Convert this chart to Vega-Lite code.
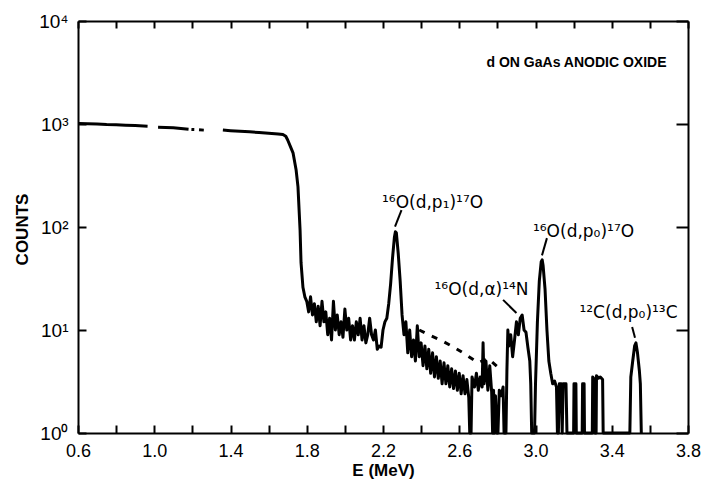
{
  "$schema": "https://vega.github.io/schema/vega-lite/v6.json",
  "width": 610,
  "height": 412,
  "autosize": {"type": "none"},
  "padding": {"left": 78, "top": 21, "right": 14, "bottom": 46},
  "background": "white",
  "config": {
    "view": {"stroke": null},
    "axis": {"domainColor": "black", "tickColor": "black", "labelColor": "black", "titleColor": "black", "grid": false, "domainWidth": 2, "tickWidth": 2, "labelFont": "Liberation Sans", "titleFont": "Liberation Sans"}
  },
  "datasets": {
    "spectrum": [
      {"E":0.605,"C":1010,"part":"a"},{"E":0.65,"C":1005,"part":"a"},{"E":0.70,"C":1000,"part":"a"},{"E":0.75,"C":990,"part":"a"},{"E":0.80,"C":985,"part":"a"},{"E":0.85,"C":975,"part":"a"},{"E":0.90,"C":965,"part":"a"},{"E":0.965,"C":950,"part":"a"},
      {"E":1.02,"C":930,"part":"b"},{"E":1.06,"C":925,"part":"b"},{"E":1.10,"C":920,"part":"b"},{"E":1.14,"C":905,"part":"b"},{"E":1.18,"C":890,"part":"b"},
      {"E":1.195,"C":885,"part":"b2"},{"E":1.21,"C":883,"part":"b2"},
      {"E":1.235,"C":878,"part":"b3"},{"E":1.26,"C":872,"part":"b3"},
      {"E":1.36,"C":875,"part":"c"},{"E":1.40,"C":862,"part":"c"},{"E":1.45,"C":850,"part":"c"},{"E":1.50,"C":840,"part":"c"},{"E":1.55,"C":825,"part":"c"},{"E":1.60,"C":812,"part":"c"},{"E":1.65,"C":800,"part":"c"},{"E":1.675,"C":790,"part":"c"},{"E":1.69,"C":760,"part":"c"},{"E":1.70,"C":700,"part":"c"},{"E":1.715,"C":600,"part":"c"},{"E":1.728,"C":525,"part":"c"},{"E":1.744,"C":360,"part":"c"},{"E":1.754,"C":245,"part":"c"},{"E":1.765,"C":93,"part":"c"},{"E":1.77,"C":45,"part":"c"},{"E":1.78,"C":26,"part":"c"},{"E":1.79,"C":21,"part":"c"},
      {"E":1.80,"C":19,"part":"c"},{"E":1.81,"C":15,"part":"c"},{"E":1.82,"C":21,"part":"c"},{"E":1.83,"C":14,"part":"c"},{"E":1.84,"C":18,"part":"c"},{"E":1.85,"C":12,"part":"c"},{"E":1.86,"C":17,"part":"c"},{"E":1.87,"C":11,"part":"c"},{"E":1.88,"C":19,"part":"c"},{"E":1.89,"C":12,"part":"c"},{"E":1.90,"C":15,"part":"c"},{"E":1.91,"C":9,"part":"c"},{"E":1.92,"C":13,"part":"c"},{"E":1.93,"C":8,"part":"c"},{"E":1.94,"C":19,"part":"c"},{"E":1.95,"C":10,"part":"c"},{"E":1.96,"C":14,"part":"c"},{"E":1.97,"C":9,"part":"c"},{"E":1.98,"C":12,"part":"c"},{"E":1.99,"C":8.5,"part":"c"},
      {"E":2.00,"C":16,"part":"c"},{"E":2.01,"C":10,"part":"c"},{"E":2.02,"C":13,"part":"c"},{"E":2.03,"C":8,"part":"c"},{"E":2.04,"C":11,"part":"c"},{"E":2.05,"C":8,"part":"c"},{"E":2.06,"C":12,"part":"c"},{"E":2.07,"C":9,"part":"c"},{"E":2.08,"C":13,"part":"c"},{"E":2.09,"C":8,"part":"c"},{"E":2.10,"C":11,"part":"c"},{"E":2.11,"C":7.5,"part":"c"},{"E":2.12,"C":9,"part":"c"},{"E":2.13,"C":13,"part":"c"},{"E":2.14,"C":9,"part":"c"},{"E":2.15,"C":8,"part":"c"},{"E":2.16,"C":10,"part":"c"},{"E":2.17,"C":6.5,"part":"c"},{"E":2.18,"C":7,"part":"c"},{"E":2.19,"C":6.8,"part":"c"},{"E":2.20,"C":10,"part":"c"},{"E":2.21,"C":12,"part":"c"},{"E":2.22,"C":13,"part":"c"},
      {"E":2.23,"C":18,"part":"c"},{"E":2.24,"C":28,"part":"c"},{"E":2.25,"C":50,"part":"c"},{"E":2.26,"C":80,"part":"c"},{"E":2.265,"C":90,"part":"c"},{"E":2.27,"C":88,"part":"c"},{"E":2.28,"C":55,"part":"c"},{"E":2.29,"C":30,"part":"c"},
      {"E":2.30,"C":14,"part":"c"},{"E":2.31,"C":9,"part":"c"},{"E":2.32,"C":12,"part":"c"},{"E":2.33,"C":6,"part":"c"},{"E":2.34,"C":10,"part":"c"},{"E":2.35,"C":5.5,"part":"c"},{"E":2.36,"C":8,"part":"c"},{"E":2.37,"C":5,"part":"c"},{"E":2.38,"C":11,"part":"c"},{"E":2.39,"C":5.5,"part":"c"},{"E":2.40,"C":7.5,"part":"c"},{"E":2.41,"C":4.5,"part":"c"},{"E":2.42,"C":7,"part":"c"},{"E":2.43,"C":4.2,"part":"c"},{"E":2.44,"C":6.5,"part":"c"},{"E":2.45,"C":3.8,"part":"c"},{"E":2.46,"C":6,"part":"c"},{"E":2.47,"C":3.5,"part":"c"},{"E":2.48,"C":5.5,"part":"c"},{"E":2.49,"C":3.4,"part":"c"},{"E":2.50,"C":5,"part":"c"},{"E":2.51,"C":3,"part":"c"},{"E":2.52,"C":4.8,"part":"c"},{"E":2.53,"C":3,"part":"c"},{"E":2.54,"C":4.5,"part":"c"},{"E":2.55,"C":2.8,"part":"c"},{"E":2.56,"C":4.2,"part":"c"},{"E":2.57,"C":2.7,"part":"c"},{"E":2.58,"C":4,"part":"c"},{"E":2.59,"C":2.6,"part":"c"},{"E":2.60,"C":3.8,"part":"c"},{"E":2.61,"C":2.4,"part":"c"},{"E":2.62,"C":3.6,"part":"c"},{"E":2.63,"C":2.4,"part":"c"},{"E":2.64,"C":3.3,"part":"c"},{"E":2.65,"C":2.2,"part":"c"},
      {"E":2.655,"C":1,"part":"c"},{"E":2.662,"C":1,"part":"c"},{"E":2.667,"C":3.5,"part":"c"},{"E":2.68,"C":2.8,"part":"c"},{"E":2.69,"C":3.8,"part":"c"},{"E":2.70,"C":2.6,"part":"c"},{"E":2.71,"C":3.5,"part":"c"},{"E":2.72,"C":2.8,"part":"c"},{"E":2.725,"C":7.5,"part":"c"},{"E":2.73,"C":3,"part":"c"},{"E":2.74,"C":5,"part":"c"},{"E":2.75,"C":2.6,"part":"c"},{"E":2.76,"C":4.5,"part":"c"},{"E":2.77,"C":2.5,"part":"c"},{"E":2.775,"C":1,"part":"c"},{"E":2.78,"C":2.6,"part":"c"},{"E":2.785,"C":1,"part":"c"},{"E":2.79,"C":2.3,"part":"c"},{"E":2.797,"C":1,"part":"c"},{"E":2.803,"C":1,"part":"c"},{"E":2.81,"C":2.6,"part":"c"},{"E":2.82,"C":2.3,"part":"c"},{"E":2.83,"C":2.8,"part":"c"},{"E":2.835,"C":1,"part":"c"},{"E":2.845,"C":1,"part":"c"},
      {"E":2.85,"C":4,"part":"c"},{"E":2.855,"C":10,"part":"c"},{"E":2.86,"C":7,"part":"c"},{"E":2.87,"C":9,"part":"c"},{"E":2.88,"C":5.5,"part":"c"},{"E":2.89,"C":8,"part":"c"},{"E":2.90,"C":12,"part":"c"},{"E":2.91,"C":9,"part":"c"},{"E":2.92,"C":13,"part":"c"},{"E":2.93,"C":14,"part":"c"},{"E":2.94,"C":10,"part":"c"},{"E":2.95,"C":9.5,"part":"c"},{"E":2.96,"C":6.8,"part":"c"},{"E":2.97,"C":5,"part":"c"},{"E":2.975,"C":3,"part":"c"},{"E":2.98,"C":1,"part":"c"},{"E":2.995,"C":1,"part":"c"},
      {"E":3.00,"C":3,"part":"c"},{"E":3.01,"C":12,"part":"c"},{"E":3.02,"C":30,"part":"c"},{"E":3.03,"C":46,"part":"c"},{"E":3.035,"C":48,"part":"c"},{"E":3.04,"C":42,"part":"c"},{"E":3.05,"C":25,"part":"c"},{"E":3.06,"C":10,"part":"c"},{"E":3.07,"C":5,"part":"c"},{"E":3.08,"C":3.8,"part":"c"},{"E":3.09,"C":3,"part":"c"},{"E":3.10,"C":3.2,"part":"c"},{"E":3.11,"C":2.8,"part":"c"},{"E":3.115,"C":1,"part":"c"},{"E":3.12,"C":1,"part":"c"},{"E":3.125,"C":3,"part":"c"},{"E":3.135,"C":3,"part":"c"},{"E":3.14,"C":1,"part":"c"},{"E":3.145,"C":3,"part":"c"},{"E":3.16,"C":3,"part":"c"},{"E":3.165,"C":1,"part":"c"},
      {"E":3.20,"C":1,"part":"c"},{"E":3.202,"C":3,"part":"c"},{"E":3.212,"C":3,"part":"c"},{"E":3.214,"C":1,"part":"c"},{"E":3.245,"C":1,"part":"c"},{"E":3.247,"C":3,"part":"c"},{"E":3.255,"C":3,"part":"c"},{"E":3.257,"C":1,"part":"c"},{"E":3.298,"C":1,"part":"c"},{"E":3.30,"C":3.5,"part":"c"},{"E":3.31,"C":3.3,"part":"c"},{"E":3.312,"C":1,"part":"c"},{"E":3.318,"C":1,"part":"c"},{"E":3.32,"C":3.6,"part":"c"},{"E":3.33,"C":3.4,"part":"c"},{"E":3.34,"C":3.5,"part":"c"},{"E":3.352,"C":3.3,"part":"c"},{"E":3.355,"C":1,"part":"c"},
      {"E":3.495,"C":1,"part":"c"},{"E":3.50,"C":3.5,"part":"c"},{"E":3.51,"C":5,"part":"c"},{"E":3.52,"C":7,"part":"c"},{"E":3.527,"C":7.5,"part":"c"},{"E":3.535,"C":6,"part":"c"},{"E":3.545,"C":4,"part":"c"},{"E":3.55,"C":3,"part":"c"},{"E":3.555,"C":1,"part":"c"}
    ],
    "upper": [
      {"E":2.39,"C":10},{"E":2.45,"C":8.8},{"E":2.50,"C":8},{"E":2.56,"C":7},{"E":2.62,"C":6},{"E":2.70,"C":4.8},{"E":2.75,"C":5.3},{"E":2.80,"C":4.4}
    ],
    "leaders": [
      {"E":2.297,"C":146,"E2":2.263,"C2":101},
      {"E":3.06,"C":78,"E2":3.034,"C2":53},
      {"E":2.83,"C":19.6,"E2":2.90,"C2":14.6},
      {"E":3.507,"C":10.7,"E2":3.522,"C2":8.4}
    ],
    "labels": [
      {"E":2.46,"C":153,"text":"¹⁶O(d,p₁)¹⁷O"},
      {"E":3.252,"C":80,"text":"¹⁶O(d,p₀)¹⁷O"},
      {"E":2.717,"C":21.9,"text":"¹⁶O(d,α)¹⁴N"},
      {"E":3.488,"C":13.1,"text":"¹²C(d,p₀)¹³C"}
    ],
    "title": [
      {"E":3.215,"C":3575,"text":"d ON GaAs ANODIC OXIDE"}
    ]
  },
  "layer": [
    {
      "data": {"name": "spectrum"},
      "mark": {"type": "line", "color": "black", "strokeWidth": 3, "strokeJoin": "round"},
      "encoding": {
        "x": {"field": "E", "type": "quantitative", "scale": {"domain": [0.6, 3.8], "nice": false, "zero": false},
          "axis": {"orient": "bottom", "values": [0.6,0.8,1.0,1.2,1.4,1.6,1.8,2.0,2.2,2.4,2.6,2.8,3.0,3.2,3.4,3.6,3.8], "labelExpr": "round((datum.value-0.6)*5) % 2 == 0 ? format(datum.value, '.1f') : ''", "tickSize": -8, "labelPadding": 17, "labelFontSize": 18, "labelFlush": false, "title": "E (MeV)", "titleFontSize": 17, "titleX": 305, "titleY": 37, "titleBaseline": "middle", "titleAlign": "center"}},
        "y": {"field": "C", "type": "quantitative", "scale": {"type": "log", "domain": [1, 10000], "nice": false},
          "axis": {"orient": "left", "values": [1,10,100,1000,10000], "labelExpr": "datum.value < 5 ? '10⁰' : datum.value < 50 ? '10¹' : datum.value < 500 ? '10²' : datum.value < 5000 ? '10³' : '10⁴'", "tickSize": -8, "labelPadding": 18, "labelFontSize": 19, "labelFlush": false, "title": "COUNTS", "titleFontSize": 17, "titleFontWeight": "bold", "titleX": -56, "titleY": 208, "titleAngle": -90, "titleBaseline": "middle", "titleAlign": "center"}},
        "detail": {"field": "part"}
      }
    },
    {
      "data": {"name": "upper"},
      "mark": {"type": "line", "color": "black", "strokeWidth": 3, "strokeDash": [6, 8]},
      "encoding": {
        "x": {"field": "E", "type": "quantitative", "axis": {"orient": "top", "values": [0.6,0.8,1.0,1.2,1.4,1.6,1.8,2.0,2.2,2.4,2.6,2.8,3.0,3.2,3.4,3.6,3.8], "labels": false, "tickSize": -7, "title": null}},
        "y": {"field": "C", "type": "quantitative", "axis": {"orient": "right", "values": [1,10,100,1000,10000], "labels": false, "tickSize": -12, "title": null}}
      }
    },
    {
      "data": {"name": "leaders"},
      "mark": {"type": "rule", "color": "black", "strokeWidth": 2},
      "encoding": {
        "x": {"field": "E", "type": "quantitative", "axis": null},
        "y": {"field": "C", "type": "quantitative", "axis": null},
        "x2": {"field": "E2"},
        "y2": {"field": "C2"}
      }
    },
    {
      "data": {"name": "labels"},
      "mark": {"type": "text", "font": "DejaVu Sans", "fontSize": 17, "align": "center", "baseline": "alphabetic", "color": "black"},
      "encoding": {
        "x": {"field": "E", "type": "quantitative", "axis": null},
        "y": {"field": "C", "type": "quantitative", "axis": null},
        "text": {"field": "text"}
      }
    },
    {
      "data": {"name": "title"},
      "mark": {"type": "text", "font": "Liberation Sans", "fontSize": 14, "fontWeight": "bold", "align": "center", "baseline": "alphabetic", "color": "black"},
      "encoding": {
        "x": {"field": "E", "type": "quantitative", "axis": null},
        "y": {"field": "C", "type": "quantitative", "axis": null},
        "text": {"field": "text"}
      }
    }
  ],
  "resolve": {"axis": {"x": "independent", "y": "independent"}}
}
